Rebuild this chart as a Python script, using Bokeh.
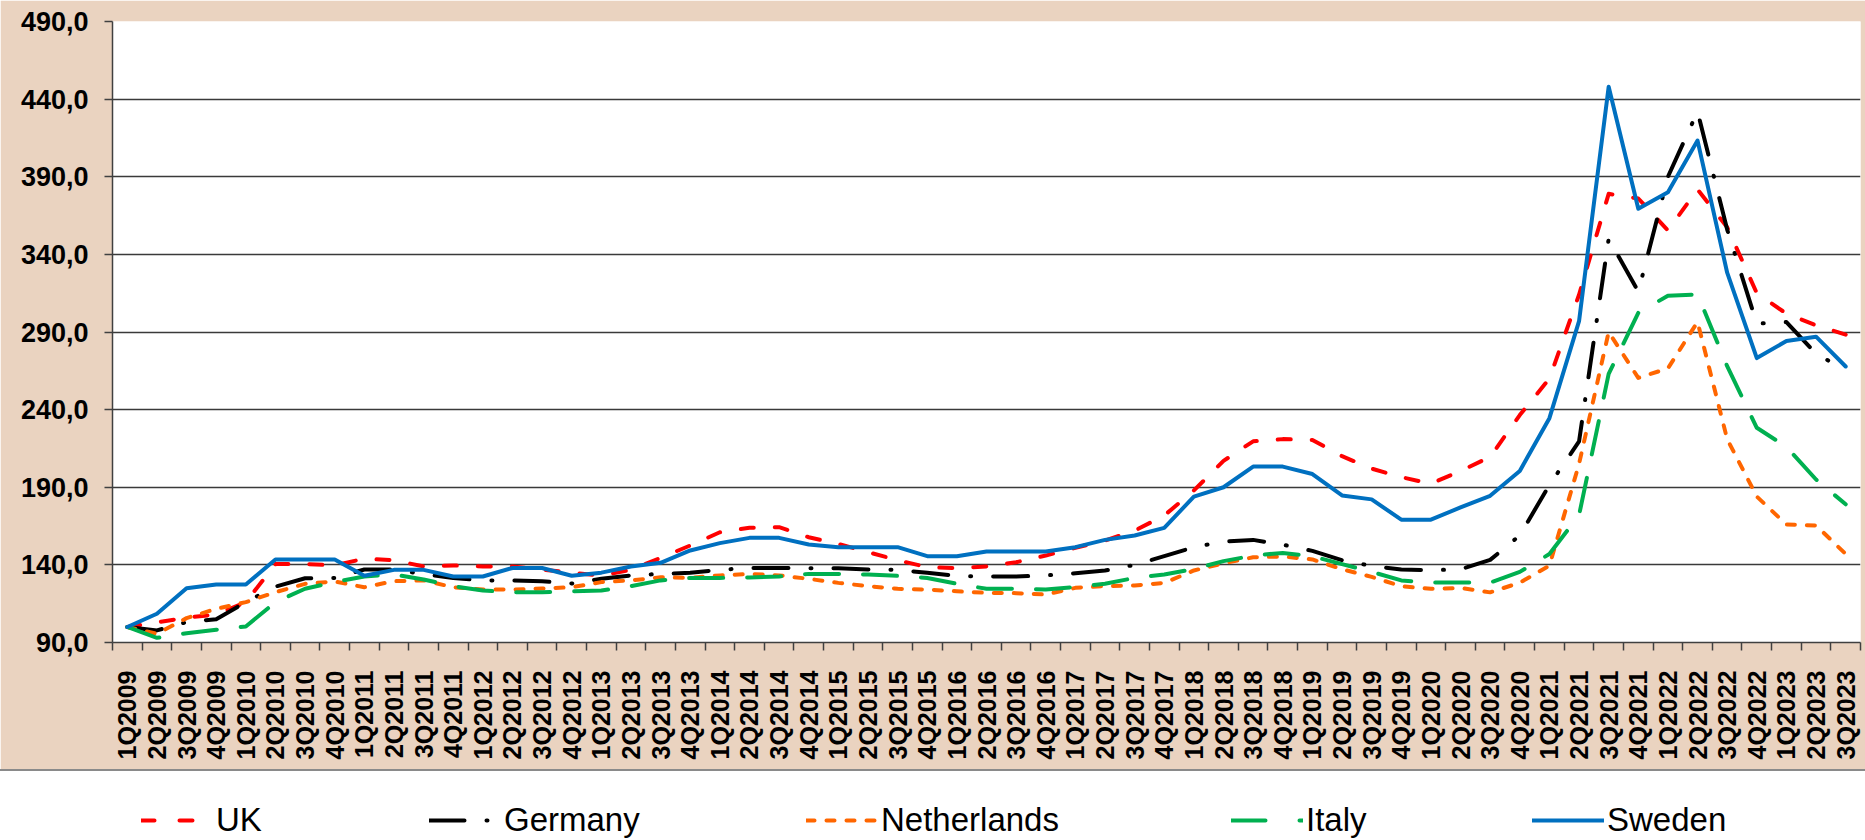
from bokeh.plotting import figure
from bokeh.models import Range1d, FixedTicker, Legend, LegendItem, Div
from bokeh.layouts import column
from bokeh.embed import file_html
from bokeh.resources import INLINE
import math

quarters = [
    "1Q2009", "2Q2009", "3Q2009", "4Q2009",
    "1Q2010", "2Q2010", "3Q2010", "4Q2010",
    "1Q2011", "2Q2011", "3Q2011", "4Q2011",
    "1Q2012", "2Q2012", "3Q2012", "4Q2012",
    "1Q2013", "2Q2013", "3Q2013", "4Q2013",
    "1Q2014", "2Q2014", "3Q2014", "4Q2014",
    "1Q2015", "2Q2015", "3Q2015", "4Q2015",
    "1Q2016", "2Q2016", "3Q2016", "4Q2016",
    "1Q2017", "2Q2017", "3Q2017", "4Q2017",
    "1Q2018", "2Q2018", "3Q2018", "4Q2018",
    "1Q2019", "2Q2019", "3Q2019", "4Q2019",
    "1Q2020", "2Q2020", "3Q2020", "4Q2020",
    "1Q2021", "2Q2021", "3Q2021", "4Q2021",
    "1Q2022", "2Q2022", "3Q2022", "4Q2022",
    "1Q2023", "2Q2023", "3Q2023",
]

uk = [100, 103, 106, 108, 116, 140.5, 140.6, 139.6, 144, 143,
      139, 139.6, 139, 139, 137, 135, 133, 136.8, 144.5, 152.5,
      161, 163.9, 164.3, 157.8, 153.5, 148.2, 143, 138.5, 137.9, 139,
      141.7, 146, 151, 155.7, 162, 171.8, 187.9, 207, 219.6, 221,
      220.5, 210, 202, 196.5, 192.3, 200.5, 209.5, 236.5, 260, 314,
      379, 376, 355.4, 381.8, 357.5, 315, 301.8, 294.3, 288.3]

germany = [100, 97.8, 103.2, 105, 116, 126, 131.4, 131.6, 137, 137,
           134, 131.6, 130, 130, 129.5, 128, 131, 133.2, 134.2, 134.9,
           136.8, 138, 138, 137.8, 137.8, 137, 136.8, 134.9, 132.9, 132.5,
           132.5, 133.2, 134.6, 136.4, 140, 145.6, 151.4, 155, 156.1, 153,
           149, 143, 139.3, 137, 136.5, 137.2, 143.2, 159, 191.5, 219.5,
           350, 316, 390, 432, 356, 295.4, 296.4, 276, 265.3]

netherlands = [100, 95.6, 105.7, 111.7, 116, 122.4, 127.8, 129.3, 125.6, 129.5,
               130, 125.6, 124.1, 124.1, 124.8, 125.6, 128.9, 130, 132, 131.6,
               133.2, 134.2, 133.2, 131, 128.4, 126.3, 124.6, 124.1, 123, 122,
               121.8, 120.9, 125.2, 126.3, 126.7, 128.4, 136.4, 141, 144.9, 145.4,
               143.5, 137.2, 132.3, 126.2, 124.6, 125.1, 122.3, 128.5, 139.5, 205,
               290, 260.4, 266.6, 296.5, 221, 184, 166, 165.4, 147]

italy = [100, 93, 96, 98.2, 100.3, 116, 124.6, 129, 132.5, 133.8,
         130.6, 126.3, 123.5, 122.4, 122.4, 123, 123.5, 126.3, 130, 131.6,
         131.6, 131.9, 132.5, 134.2, 134.2, 133.8, 132.9, 131.6, 127.8, 124.6,
         124.6, 124.1, 125.8, 127.8, 131.6, 133.8, 137.4, 142.4, 146, 147.7,
         145.5, 140.5, 135.5, 130, 128.6, 128.6, 128.6, 135.5, 147, 172,
         263, 302.3, 313.4, 314.2, 268, 228.3, 216, 195, 179]

sweden = [100, 108.5, 125, 127.4, 127.4, 143.5, 143.5, 143.5, 133, 136.8,
          136.8, 132.5, 132.5, 138, 138, 133, 135, 139, 141.3, 149.3,
          154, 157.4, 157.4, 153.1, 151.4, 151.4, 151.4, 145.6, 145.6, 148.6,
          148.6, 148.6, 151.4, 156.1, 158.9, 163.8, 184, 190, 203.3, 203.3,
          198.5, 184.7, 182.2, 169.1, 169.1, 177, 184.5, 200.5, 234.5, 297,
          448, 369.4, 380, 413.3, 328.2, 273.2, 284.2, 287, 267.8]

y_tick_values = [90, 140, 190, 240, 290, 340, 390, 440, 490]
y_tick_labels = ["90,0", "140,0", "190,0", "240,0", "290,0", "340,0", "390,0", "440,0", "490,0"]

series_names = ["UK", "Germany", "Netherlands", "Italy", "Sweden"]
series_values = [uk, germany, netherlands, italy, sweden]
series_colors = ["#FF0000", "#000000", "#FF6600", "#00B050", "#0070C0"]
series_dashes = ["13 21", "35 22 1 22", "8 12", "34 24", "solid"]
legend_dashes = ["13 25", "35 22 1 22", "8 12", "34 34", "solid"]

n = len(quarters)
x_centers = [i + 0.5 for i in range(n)]
x_bounds = [float(i) for i in range(n + 1)]

FONT = "Liberation Sans"
WOOD = "#EAD3C0"
AXIS_COL = "#404040"

p = figure(width=1865, height=769,
           x_range=Range1d(0, n), y_range=Range1d(90, 490),
           output_backend="svg", toolbar_location=None,
           min_border_left=112, min_border_right=5,
           min_border_top=21, min_border_bottom=127,
           background_fill_color="white", border_fill_color=WOOD,
           outline_line_color=None)

# x axis: category boundaries as (minor) ticks, labels at category centres
xa = p.xaxis[0]
xa.ticker = FixedTicker(ticks=x_centers, minor_ticks=x_bounds)
xa.major_label_overrides = {c: q for c, q in zip(x_centers, quarters)}
xa.major_label_orientation = math.pi / 2
xa.major_tick_out = 0
xa.major_tick_in = 0
xa.minor_tick_out = 8
xa.minor_tick_in = 0
xa.minor_tick_line_color = AXIS_COL
xa.minor_tick_line_width = 1.5
xa.axis_line_color = AXIS_COL
xa.axis_line_width = 1.5
xa.major_label_text_font = FONT
xa.major_label_text_font_style = "bold"
xa.major_label_text_font_size = "25px"
xa.major_label_text_color = "black"
xa.major_label_standoff = 20

ya = p.yaxis[0]
ya.ticker = FixedTicker(ticks=y_tick_values, minor_ticks=[])
ya.major_label_overrides = {v: s for v, s in zip(y_tick_values, y_tick_labels)}
ya.major_tick_out = 8
ya.major_tick_in = 0
ya.major_tick_line_color = AXIS_COL
ya.major_tick_line_width = 1.5
ya.axis_line_color = AXIS_COL
ya.axis_line_width = 1.5
ya.major_label_text_font = FONT
ya.major_label_text_font_style = "bold"
ya.major_label_text_font_size = "27px"
ya.major_label_text_color = "black"
ya.major_label_standoff = 16

p.xgrid.visible = False
p.ygrid.ticker = FixedTicker(ticks=y_tick_values)
p.ygrid.grid_line_color = "#3a3a3a"
p.ygrid.grid_line_width = 1.3

for name, vals, col, dash in zip(series_names, series_values, series_colors, series_dashes):
    p.line(x_centers, vals, line_color=col, line_width=4, line_dash=dash,
           line_cap="round", line_join="round")

# thin grey rule between the chart area and the legend strip
sep = Div(text="", width=1865, height=2, margin=0,
          styles={"background-color": "#8a8a8a"})

# legend strip; its lines use the same data but lie outside this strip's
# y-range, so only the legend keys are visible
lg = figure(width=1865, height=69, x_range=Range1d(0, n), y_range=Range1d(0, 1),
            output_backend="svg", toolbar_location=None, min_border=0,
            x_axis_location=None, y_axis_location=None,
            background_fill_color="white", border_fill_color="white",
            outline_line_color=None)
lg.grid.visible = False

# the strip's frame is aligned with the chart frame (starts at x=112)
legend_x = [29, 317, 694, 1119, 1420]
for name, vals, col, dash, lx in zip(series_names, series_values, series_colors,
                                     legend_dashes, legend_x):
    r = lg.line(x_centers, vals, line_color=col, line_width=4, line_dash=dash,
                line_cap="round", line_join="round")
    leg = Legend(items=[LegendItem(label=name, renderers=[r])],
                 location=(lx, 1), orientation="horizontal",
                 glyph_width=72, glyph_height=20, label_standoff=3,
                 label_text_font=FONT, label_text_font_size="33px",
                 label_text_color="black", padding=0, margin=0,
                 border_line_color=None, background_fill_alpha=0)
    lg.add_layout(leg)

layout = column(p, sep, lg, spacing=0)

with open("out.html", "w") as f:
    f.write(file_html(layout, INLINE))
